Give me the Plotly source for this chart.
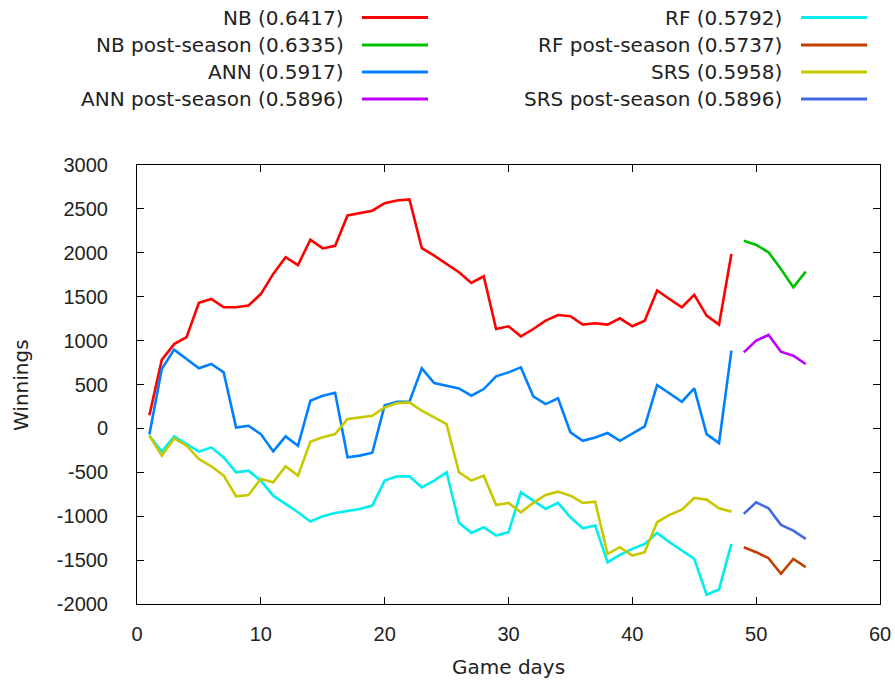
import plotly.graph_objects as go

# ---- data ----
season_days = list(range(1, 49))
post_days = [49, 50, 51, 52, 53, 54]

nb = [150, 780, 960, 1040, 1430, 1475, 1380, 1380, 1400, 1530, 1760, 1950, 1860, 2150, 2050, 2080,
      2425, 2450, 2480, 2565, 2595, 2607, 2052, 1968, 1873, 1778, 1657, 1733, 1132, 1163, 1049, 1132,
      1227, 1292, 1277, 1182, 1197, 1182, 1254, 1163, 1227, 1570, 1474, 1380, 1520, 1284, 1182, 1987]
ann = [-70, 676, 897, 790, 684, 733, 638, 11, 30, -65, -262, -91, -198, 315, 372, 405,
       -330, -310, -277, 262, 303, 303, 684, 517, 486, 456, 372, 448, 593, 638, 695, 365,
       277, 342, -46, -141, -103, -53, -141, -55, 23, 494, 400, 304, 456, -65, -167, 885]
rf = [-83, -265, -91, -178, -265, -216, -330, -500, -481, -595, -766, -860, -955, -1061, -1000, -963,
      -936, -917, -879, -595, -546, -546, -671, -595, -500, -1076, -1190, -1126, -1220, -1182, -728, -822,
      -917, -849, -1012, -1137, -1107, -1524, -1440, -1372, -1315, -1190, -1296, -1391, -1486, -1895, -1834, -1315]
srs = [-83, -311, -114, -197, -349, -432, -538, -773, -758, -576, -614, -432, -538, -152, -102, -64,
       106, 125, 144, 239, 288, 296, 201, 125, 49, -500, -595, -538, -872, -849, -955, -849,
       -758, -720, -766, -849, -834, -1429, -1353, -1448, -1410, -1069, -985, -925, -792, -811, -910, -948]

nb_post = [2136, 2090, 2006, 1816, 1607, 1786]
ann_post = [866, 1000, 1064, 874, 828, 733]
rf_post = [-1353, -1410, -1478, -1656, -1486, -1580]
srs_post = [-974, -841, -910, -1099, -1164, -1258]

labels = ["NB (0.6417)", "NB post-season (0.6335)", "ANN (0.5917)", "ANN post-season (0.5896)",
          "RF (0.5792)", "RF post-season (0.5737)", "SRS (0.5958)", "SRS post-season (0.5896)"]
colors = ["#ff0000", "#00c000", "#0080ff", "#c000ff", "#00eeee", "#c04000", "#c8c800", "#4169e1"]

x_ticks = [0, 10, 20, 30, 40, 50, 60]
y_ticks = [-2000, -1500, -1000, -500, 0, 500, 1000, 1500, 2000, 2500, 3000]

series = [
    (season_days, nb), (post_days, nb_post),
    (season_days, ann), (post_days, ann_post),
    (season_days, rf), (post_days, rf_post),
    (season_days, srs), (post_days, srs_post),
]

FONT = "DejaVu Sans, sans-serif"
TICKFONT = "Liberation Sans, Arial, sans-serif"
TXT = "#222222"

fig = go.Figure()
for (xs, ys), lab, col in zip(series, labels, colors):
    fig.add_trace(go.Scatter(x=xs, y=ys, mode="lines", name=lab,
                             line=dict(color=col, width=2.6), showlegend=False,
                             hoverinfo="skip"))

L, R, T, B = 137, 880, 165, 604   # plot area in page pixels
W, H = R - L, B - T
def px(xp):
    return (xp - L) / W
def py(yp):
    return (B - yp) / H

# custom gnuplot-style key: right-aligned text followed by a line sample
row_y = [17.5, 45, 72, 99]
cols = [(345, 362, 428), (783, 801, 867)]
for i, (lab, col) in enumerate(zip(labels, colors)):
    c = i // 4
    r = i % 4
    tx, l0, l1 = cols[c]
    fig.add_annotation(x=px(tx), y=py(row_y[r]), xref="paper", yref="paper",
                       text=lab, showarrow=False, xanchor="right", yanchor="middle",
                       borderpad=0,
                       font=dict(family=FONT, size=20, color=TXT))
    fig.add_shape(type="line", xref="paper", yref="paper",
                  x0=px(l0), x1=px(l1), y0=py(row_y[r]), y1=py(row_y[r]),
                  line=dict(color=col, width=3))

fig.add_annotation(x=0.5, y=py(667), xref="paper", yref="paper", text="Game days",
                   showarrow=False, xanchor="center", yanchor="middle",
                   font=dict(family=FONT, size=20, color=TXT))
fig.add_annotation(x=px(21), y=py(385), xref="paper", yref="paper", text="Winnings",
                   showarrow=False, xanchor="center", yanchor="middle", textangle=-90,
                   font=dict(family=FONT, size=20, color=TXT))

axis_common = dict(showgrid=False, zeroline=False, showline=True, linecolor="#000000",
                   linewidth=1, mirror="allticks", ticks="inside", ticklen=7,
                   tickcolor="#000000", tickwidth=1, automargin=False,
                   tickfont=dict(family=TICKFONT, size=20, color=TXT))
fig.update_xaxes(range=[0, 60], tickvals=x_ticks, ticktext=[str(v) for v in x_ticks],
                 ticklabelstandoff=12, **axis_common)
fig.update_yaxes(range=[-2000, 3000], tickvals=y_ticks, ticktext=[str(v) for v in y_ticks],
                 ticklabelstandoff=24, **axis_common)

fig.update_layout(width=895, height=688,
                  margin=dict(l=L, r=895 - R, t=T, b=688 - B),
                  plot_bgcolor="white", paper_bgcolor="white", showlegend=False)

# remove the default page margin so the figure sits at the window's top-left corner
fig.write_html("out.html", config={"displayModeBar": False},
               post_script="document.body.style.margin='0';")
